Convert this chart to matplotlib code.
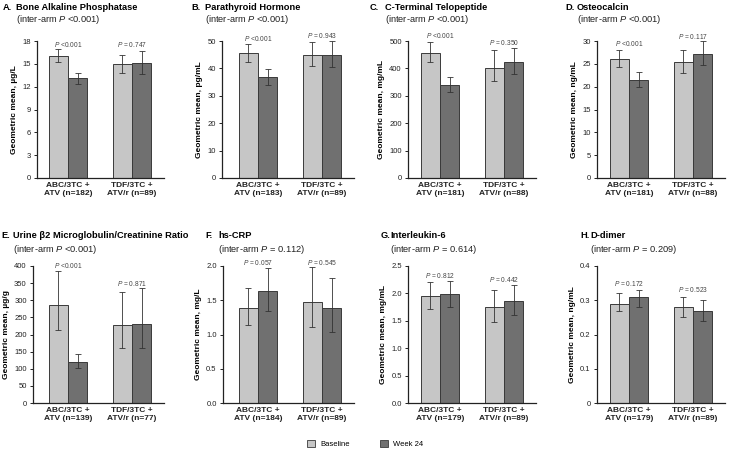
import matplotlib
matplotlib.use("Agg")
import matplotlib.pyplot as plt
import numpy as np

plt.rcParams['font.family'] = ['Liberation Sans', 'DejaVu Sans']
plt.rcParams['mathtext.fontset'] = 'custom'
plt.rcParams['mathtext.rm'] = 'Liberation Sans'
plt.rcParams['mathtext.it'] = 'Liberation Sans:italic'
plt.rcParams['mathtext.bf'] = 'Liberation Sans:bold'

# ---- data ----
letters = ['A.', 'B.', 'C.', 'D.', 'E.', 'F.', 'G.', 'H.']
titles = ['Bone Alkaline Phosphatase', 'Parathyroid Hormone', 'C-Terminal Telopeptide',
          'Osteocalcin', 'Urine \u03b22 Microglobulin/Creatinine Ratio', 'hs-CRP',
          'Interleukin-6', 'D-dimer']
inter_arm = ['<0.001', '<0.001', '<0.001', '<0.001', '<0.001', '= 0.112', '= 0.614', '= 0.209']
ylabels = ['Geometric mean, \u00b5g/L', 'Geometric mean, pg/mL', 'Geometric mean, mg/mL',
           'Geometric mean, ng/mL', 'Geometric mean, \u00b5g/g', 'Geometric mean, mg/L',
           'Geometric mean, mg/mL', 'Geometric mean, ng/mL']
n_abc = [182, 183, 181, 181, 139, 184, 179, 179]
n_tdf = [89, 89, 88, 88, 77, 89, 89, 89]

# [ABC, TDF] per panel
baseline = [[16.0, 15.0], [45.5, 45.0], [457, 403], [26.1, 25.3],
            [287, 228], [1.39, 1.48], [1.95, 1.75], [0.29, 0.28]]
baseline_lo = [[15.2, 13.8], [42.5, 41.0], [422, 353], [24.4, 22.9],
               [213, 160], [1.14, 1.11], [1.72, 1.48], [0.27, 0.25]]
baseline_hi = [[16.9, 16.2], [49.0, 49.5], [497, 466], [28.1, 28.1],
               [385, 325], [1.68, 1.98], [2.21, 2.07], [0.32, 0.31]]
week24 = [[13.1, 15.1], [36.7, 45.0], [340, 423], [21.5, 27.1],
          [120, 232], [1.63, 1.38], [1.98, 1.86], [0.31, 0.27]]
week24_lo = [[12.4, 13.7], [34.0, 40.5], [313, 378], [20.0, 24.7],
             [103, 160], [1.34, 1.04], [1.76, 1.61], [0.28, 0.24]]
week24_hi = [[13.8, 16.7], [39.7, 50.0], [370, 476], [23.2, 29.9],
             [142, 335], [1.97, 1.83], [2.22, 2.15], [0.33, 0.30]]
p_within = [['<0.001', '= 0.747'], ['<0.001', '= 0.943'], ['<0.001', '= 0.350'],
            ['<0.001', '= 0.117'], ['<0.001', '= 0.871'], ['= 0.057', '= 0.545'],
            ['= 0.812', '= 0.442'], ['= 0.172', '= 0.523']]
p_text_y = [[17.6, 17.6], [51, 52], [520, 494], [29.4, 30.9],
            [400, 350], [2.05, 2.05], [2.32, 2.25], [0.35, 0.33]]
yticks = [np.arange(0, 19, 3), np.arange(0, 51, 10), np.arange(0, 501, 100),
          np.arange(0, 31, 5), np.arange(0, 401, 50), np.arange(0, 2.01, 0.5),
          np.arange(0, 2.51, 0.5), np.arange(0, 0.41, 0.1)]
ytick_labels = [None, None, None, None, None,
                ['0.0', '0.5', '1.0', '1.5', '2.0'],
                ['0.0', '0.5', '1.0', '1.5', '2.0', '2.5'],
                ['0', '0.1', '0.2', '0.3', '0.4']]

# ---- layout (pixels) ----
W, H = 731, 449
ax_left = [37, 222, 408, 597, 33, 223, 408, 597]
grp0 = [68, 258, 440, 629, 68, 258, 440, 629]
gap = 64
row_top = [41, 266]
row_bot = [178, 403]
letter_x = [3, 191, 370, 565, 1, 205, 381, 580]
word_x = [16, 205, 385, 577, 13, 218, 390, 590]
title_y = [7, 235]
sub_y = [20, 249]

light = '#c6c6c6'
dark = '#707070'
edge = '#3a3a3a'

fig = plt.figure(figsize=(W / 100, H / 100), dpi=100)

for i in range(8):
    row = i // 4
    left = ax_left[i]
    right = grp0[i] + gap + gap / 2
    ax = fig.add_axes([left / W, 1 - row_bot[row] / H,
                       (right - left) / W, (row_bot[row] - row_top[row]) / H])
    x = np.arange(2)
    bw = 0.3
    b = np.array(baseline[i])
    w = np.array(week24[i])
    ax.bar(x - bw / 2, b, bw, color=light, edgecolor=edge, linewidth=0.7)
    ax.bar(x + bw / 2, w, bw, color=dark, edgecolor=edge, linewidth=0.7)
    ax.errorbar(x - bw / 2, b, yerr=[b - np.array(baseline_lo[i]), np.array(baseline_hi[i]) - b],
                fmt='none', ecolor='#333333', elinewidth=0.6, capsize=2, capthick=0.6)
    ax.errorbar(x + bw / 2, w, yerr=[w - np.array(week24_lo[i]), np.array(week24_hi[i]) - w],
                fmt='none', ecolor='#333333', elinewidth=0.6, capsize=2, capthick=0.6)
    for j in range(2):
        ax.text(x[j], p_text_y[i][j], '$P$ ' + p_within[i][j], ha='center', va='center',
                fontsize=4.8, color='#444444', clip_on=False)

    ax.set_xlim((left - grp0[i]) / gap, 1.5)
    ax.set_ylim(yticks[i][0], yticks[i][-1])
    ax.set_yticks(yticks[i])
    if ytick_labels[i] is not None:
        ax.set_yticklabels(ytick_labels[i])
    ax.set_xticks(x)
    ax.set_xticklabels(['ABC/3TC +\nATV (n=%d)' % n_abc[i], 'TDF/3TC +\nATV/r (n=%d)' % n_tdf[i]],
                       fontweight='bold', fontsize=6, color='#222222')
    ax.tick_params(axis='x', length=0, pad=3)
    ax.tick_params(axis='y', labelsize=5.5, length=2.5, width=0.7, pad=2, colors='#222222')
    ax.set_ylabel(ylabels[i], fontsize=6, fontweight='bold', labelpad=3)
    for s in ['top', 'right']:
        ax.spines[s].set_visible(False)
    for s in ['left', 'bottom']:
        ax.spines[s].set_linewidth(0.9)
        ax.spines[s].set_color('#222222')

    fig.text(letter_x[i] / W, 1 - title_y[row] / H, letters[i], fontsize=6.7,
             fontweight='bold', va='center', ha='left')
    fig.text(word_x[i] / W, 1 - title_y[row] / H, titles[i], fontsize=6.7,
             fontweight='bold', va='center', ha='left')
    fig.text(word_x[i] / W, 1 - sub_y[row] / H, '(inter-arm $P$ ' + inter_arm[i] + ')',
             fontsize=6.7, va='center', ha='left', color='#222222')

# legend
handles = [plt.Rectangle((0, 0), 1, 1, facecolor=light, edgecolor=edge, linewidth=0.6),
           plt.Rectangle((0, 0), 1, 1, facecolor=dark, edgecolor=edge, linewidth=0.6)]
fig.legend(handles, ['Baseline', 'Week 24'], loc='center', ncol=2,
           bbox_to_anchor=(365 / W, 1 - 444 / H), frameon=False, fontsize=5.5,
           handlelength=1.1, handleheight=1.1, columnspacing=4, handletextpad=0.6)

fig.savefig('out.png', dpi=100)
